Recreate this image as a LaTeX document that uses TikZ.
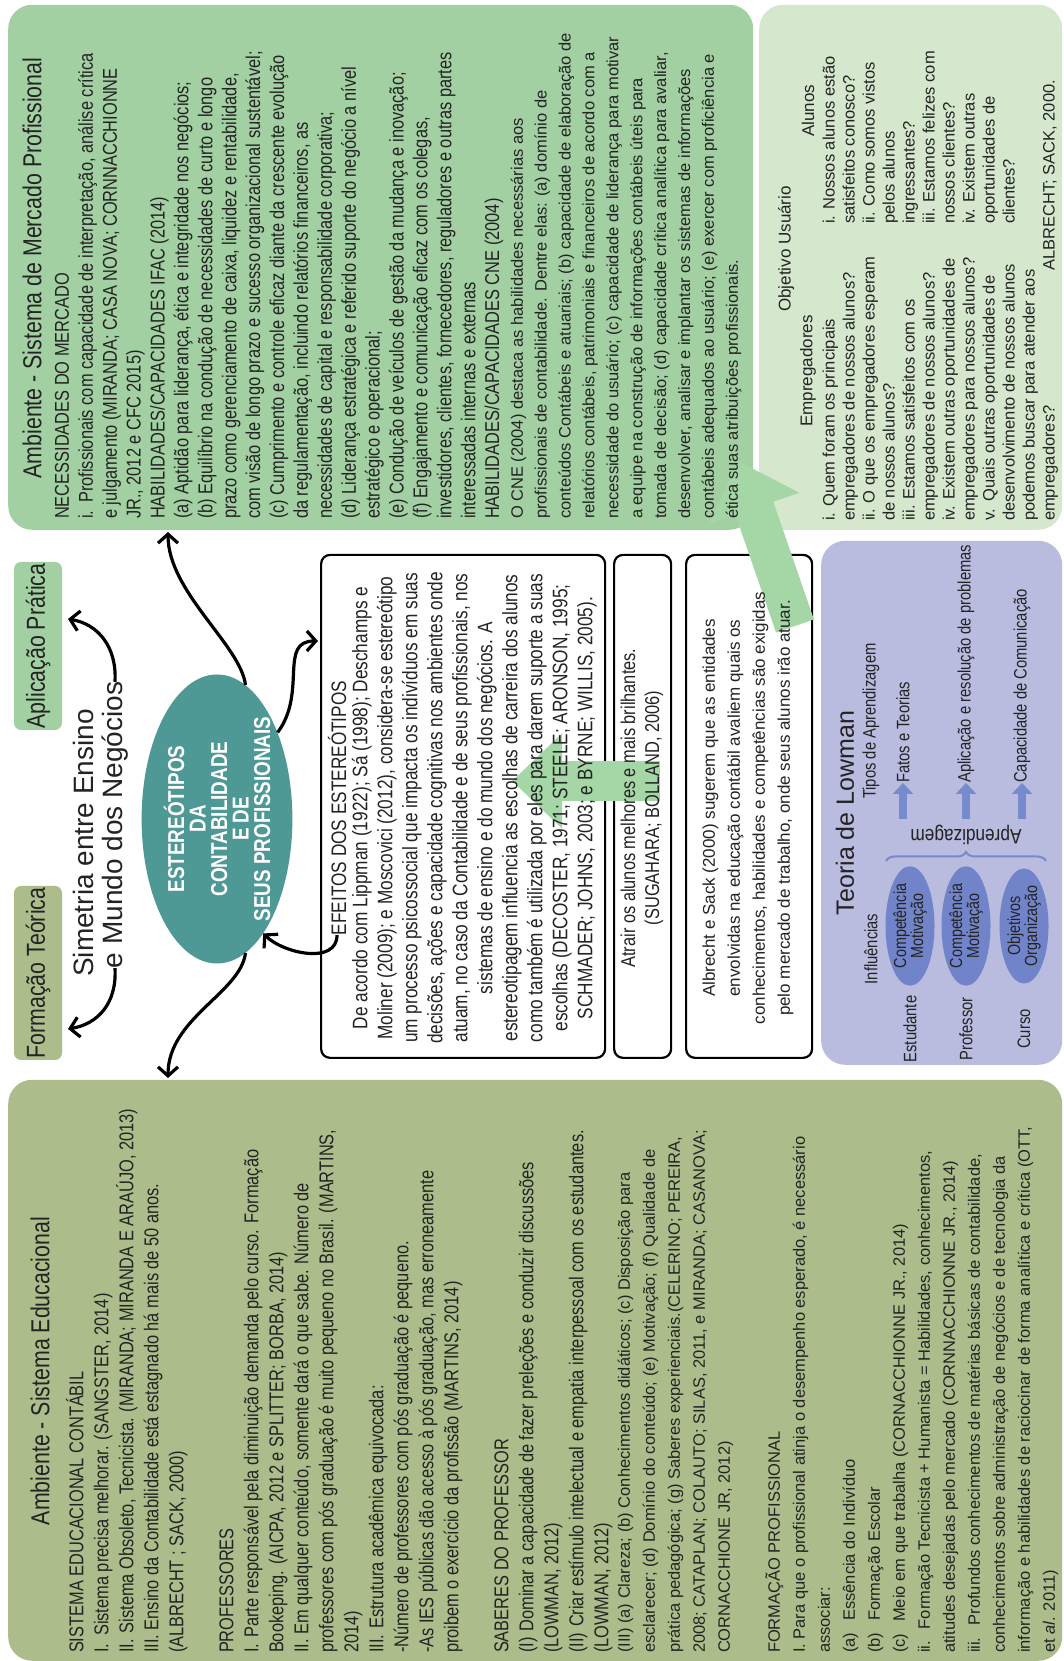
\documentclass[tikz,border=0pt]{standalone}
\usepackage{fontspec}
\setmainfont{Liberation Sans}
\newfontfamily\nar{Liberation Sans}[FakeStretch=0.82]
\usetikzlibrary{shapes.geometric,arrows.meta,decorations.pathreplacing}
\definecolor{merc}{RGB}{163,208,163}
\definecolor{objc}{RGB}{213,232,205}
\definecolor{educ}{RGB}{172,189,139}
\definecolor{ellc}{RGB}{78,152,150}
\definecolor{lowbg}{RGB}{185,187,223}
\definecolor{lowell}{RGB}{113,132,201}
\definecolor{lowarr}{RGB}{118,138,206}
\definecolor{garr}{RGB}{165,214,165}
\definecolor{txt}{RGB}{35,35,35}
\tikzset{
  panel/.style={draw=none, rounded corners=24pt, inner sep=0pt, anchor=north west},
  wbox/.style={draw=black, line width=2.2pt, fill=white, rounded corners=9pt, inner sep=0pt, anchor=north west},
  lbl/.style={rounded corners=7pt, inner sep=0pt, anchor=center, text=txt},
  nt/.style={inner sep=0pt, outer sep=0pt, text=txt, align=left, anchor=north west, font=\nar\fontsize{20}{25}\selectfont},
  rt/.style={inner sep=0pt, outer sep=0pt, text=txt, align=left, anchor=north west, font=\fontsize{16.5}{25}\selectfont},
  ct/.style={inner sep=0pt, outer sep=0pt, text=txt, align=center},
  blk/.style={line width=3.2pt, -{Straight Barb[length=9pt,width=20pt]}},
  garrow/.style={line width=40pt, draw=garr, -{Triangle[length=50pt,width=92pt]}},
  lowa/.style={line width=8pt, draw=lowarr, -{Triangle[length=11pt,width=20pt]}},
  lowe/.style={ellipse, fill=lowell, minimum width=114pt, minimum height=49pt, inner sep=0pt, align=center, text=txt, font=\nar\fontsize{17.5}{17}\selectfont},
  lowt/.style={inner sep=0pt, text=txt, font=\nar\fontsize{18}{20}\selectfont},
}
\begin{document}
\begin{tikzpicture}[x=1pt,y=-1pt]
\begin{scope}[rotate=90, transform shape]
\useasboundingbox (0,0) rectangle (1661,1064);
\fill[white] (0,0) rectangle (1661,1064);

% panels
\node[panel, fill=educ, minimum width=581pt, minimum height=1054pt] (edu) at (0,8) {};
\node[panel, fill=merc, minimum width=525pt, minimum height=745pt] (merc) at (1131,8) {};
\node[panel, fill=objc, minimum width=525pt, minimum height=303pt] (obj) at (1131,759) {};
\node[panel, fill=lowbg, minimum width=524pt, minimum height=241pt] (low) at (596,821) {};

% top labels
\node[lbl, fill=educ, minimum width=174pt, minimum height=48pt, font=\nar\fontsize{26}{30}\selectfont] (form) at (688,38) {Formação Teórica};
\node[lbl, fill=merc, minimum width=168pt, minimum height=48pt, font=\nar\fontsize{26}{30}\selectfont] (apl) at (1015,38) {Aplicação Prática};
\node[ct, font=\fontsize{28}{32}\selectfont] (sim1) at (818,83) {Simetria entre Ensino};
\node[ct, font=\fontsize{28}{32}\selectfont] (sim2) at (836,115) {e Mundo dos Negócios};

% central ellipse
\node[ellipse, fill=ellc, minimum width=262pt, minimum height=138pt, inner sep=0pt, align=center, text=white, font=\nar\bfseries\fontsize{23}{21.5}\selectfont] (ell) at (842,217) {ESTEREÓTIPOS\\DA\\CONTABILIDADE\\E DE\\SEUS PROFISSIONAIS};

% white boxes
\node[wbox, minimum width=503pt, minimum height=284pt] (ef) at (602,320) {};
\node[wbox, minimum width=503pt, minimum height=57pt] (atr) at (602,613) {};
\node[wbox, minimum width=503pt, minimum height=126pt] (alb) at (602,685) {};

% big green arrows
\coordinate (g1s) at (880,660);
\coordinate (g1e) at (880,512);
\draw[garrow] (g1s) -- (g1e);
\coordinate (g2s) at (1035,795);
\coordinate (g2e) at (1200,738);
\draw[garrow] (g2s) -- (g2e);

% black arrows
\coordinate (mercin) at (1129,168);
\coordinate (eduin) at (583,168);
\coordinate (efin) at (1020,318);
\coordinate (formin) at (632,68);
\coordinate (aplin) at (1042,68);
\draw[blk] (sim2.west) .. controls +(-35,2) and +(5,30) .. (formin);
\draw[blk] (sim2.east) .. controls +(35,2) and +(-5,30) .. (aplin);
\draw[blk] (ell.-12) .. controls +(40,-5) and +(-60,0) .. (mercin);
\draw[blk] (ell.-168) .. controls +(-40,-5) and +(60,0) .. (eduin);
\draw[blk] (ell.-35) .. controls +(40,30) and +(0,-40) .. (efin);

% Educacional text
\node[inner sep=0pt, text=txt, font=\nar\fontsize{26}{30}\selectfont] (edut) at (290,40) {Ambiente - Sistema Educacional};
\node[nt] (edub1) at (8,66) {SISTEMA EDUCACIONAL CONTÁBIL\\
I.\hspace{8pt}Sistema precisa  melhorar. (SANGSTER, 2014)\\
II.\hspace{6pt}Sistema Obsoleto, Tecnicista. (MIRANDA; MIRANDA E ARAÚJO, 2013)\\
III. Ensino da Contabilidade está estagnado há mais de 50 anos.\\
(ALBRECHT ; SACK, 2000)\\[25pt]
PROFESSORES\\
I.\hspace{6pt}Parte responsável pela diminuição demanda pelo curso. Formação\\
Bookeping. (AICPA, 2012 e SPLITTER; BORBA, 2014)\\
II. Em qualquer conteúdo, somente dará o que sabe. Número de\\
professores com pós graduação é muito pequeno no Brasil. (MARTINS,\\
2014)\\
III.\hspace{6pt}Estrutura acadêmica equivocada:\\
-Número de professores com pós graduação é pequeno.\\
-As IES públicas dão acesso à pós graduação, mas erroneamente\\
proibem o exercício da profissão (MARTINS, 2014)\\[25pt]
SABERES DO PROFESSOR\\
(I)\hspace{6pt}Dominar a capacidade de fazer preleções e conduzir discussões\\
(LOWMAN, 2012)\\
(II)\hspace{6pt}Criar estímulo intelectual e empatia interpessoal com os estudantes.\\
(LOWMAN, 2012)};
\node[rt] (edub2) at (8,617.6) {(III) (a) Clareza; (b) Conhecimentos didáticos; (c) Disposição para\\
esclarecer; (d) Domínio do conteúdo; (e) Motivação; (f) Qualidade de\\
prática pedagógica; (g) Saberes experienciais.(CELERINO; PEREIRA,\\
2008; CATAPLAN; COLAUTO; SILAS, 2011, e MIRANDA; CASANOVA;\\
CORNACCHIONE JR, 2012)\\[25pt]
FORMAÇÃO PROFISSIONAL\\
I. Para que o profissional atinja o desempenho esperado, é necessário\\
associar:\\
(a)\hspace{12pt}Essência do Indivíduo\\
(b)\hspace{12pt}Formação Escolar\\
(c)\hspace{12pt}Meio em que trabalha (CORNACCHIONNE JR., 2014)\\
ii.\hspace{12pt}Formação Tecnicista + Humanista = Habilidades, conhecimentos,\\
atitudes desejadas pelo mercado (CORNNACCHIONNE JR., 2014)\\
iii.\hspace{12pt}Profundos conhecimentos de matérias básicas de contabilidade,\\
conhecimentos sobre administração de negócios e de tecnologia da\\
informação e habilidades de raciocinar de forma analítica e crítica (OTT,\\
et \textit{al}. 2011)};

% Mercado text
\node[inner sep=0pt, text=txt, font=\nar\fontsize{26}{30}\selectfont] (merct) at (1393,32) {Ambiente - Sistema de Mercado Profissional};
\node[nt, font=\nar\fontsize{20}{23.9}\selectfont] (mercb1) at (1142,55) {NECESSIDADES DO MERCADO\\
i.\hspace{8pt}Profissionais com capacidade de interpretação, análise crítica\\
e julgamento (MIRANDA; CASA NOVA; CORNNACCHIONNE\\
JR., 2012 e CFC 2015)\\
HABILIDADES/CAPACIDADES IFAC (2014)\\
(a) Aptidão para liderança, ética e integridade nos negócios;\\
(b) Equilíbrio na condução de necessidades de curto e longo\\
prazo como gerenciamento de caixa, liquidez e rentabilidade,\\
com visão de longo prazo e sucesso organizacional sustentável;\\
(c) Cumprimento e controle eficaz diante da crescente evolução\\
da regulamentação, incluindo relatórios financeiros, as\\
necessidades de capital e responsabilidade corporativa;\\
(d) Liderança estratégica e referido suporte do negócio a nível\\
estratégico e operacional;\\
(e) Condução de veículos de gestão da mudança e inovação;\\
(f) Engajamento e comunicação eficaz com os colegas,\\
investidores, clientes, fornecedores, reguladores e outras partes\\
interessadas internas e externas\\
HABILIDADES/CAPACIDADES CNE (2004)};
\node[rt, font=\fontsize{16.5}{23.9}\selectfont] (mercb2) at (1142,510.6) {O CNE (2004) destaca as habilidades necessárias aos\\
profissionais de contabilidade. Dentre elas: (a) domínio de\\
conteúdos Contábeis e atuariais; (b) capacidade de elaboração de\\
relatórios contábeis, patrimoniais e financeiros de acordo com a\\
necessidade do usuário; (c) capacidade de liderança para motivar\\
a equipe na construção de informações contábeis úteis para\\
tomada de decisão; (d) capacidade crítica analítica para avaliar,\\
desenvolver, analisar e implantar os sistemas de informações\\
contábeis adequados ao usuário; (e) exercer com proficiência e\\
ética suas atribuições profissionais.};

% EFEITOS box text
\node[ct, font=\nar\fontsize{21}{25}\selectfont] (eft) at (853,337) {EFEITOS DOS ESTEREÓTIPOS};
\draw[blk] (eft.west) .. controls +(-30,0) and +(-20,20) .. (ell.-158);
\node[ct, anchor=north, font=\nar\fontsize{21}{25}\selectfont] (efb) at (853,352) {De acordo com Lippman (1922); Sá (1998); Deschamps e\\
Moliner (2009); e Moscovici (2012), considera-se estereótipo\\
um processo psicossocial que impacta os indivíduos em suas\\
decisões, ações e capacidade cognitivas nos ambientes onde\\
atuam, no caso da Contabilidade e de seus profissionais, nos\\
sistemas de ensino e do mundo dos negócios. A\\
estereotipagem influencia as escolhas de carreira dos alunos\\
como também é utilizada por eles para darem suporte a suas\\
escolhas (DECOSTER, 1971; STEELE; ARONSON, 1995;\\
SCHMADER; JOHNS, 2003; e BYRNE; WILLIS, 2005).};

\node[ct, font=\nar\fontsize{20}{24}\selectfont] (atrt) at (853,642) {Atrair os alunos melhores e mais brilhantes.\\(SUGAHARA; BOLLAND, 2006)};
\node[ct, font=\fontsize{17}{25}\selectfont] (albt) at (853,748) {Albrecht e Sack (2000) sugerem que as entidades\\
envolvidas na educação contábil avaliem quais os\\
conhecimentos, habilidades e competências são exigidas\\
pelo mercado de trabalho, onde seus alunos irão atuar.};

% Objetivo box
\node[ct, font=\fontsize{17}{20}\selectfont] (objt) at (1412,786) {Objetivo Usuário};
\node[ct, font=\fontsize{17}{20}\selectfont] (emp) at (1290,808) {Empregadores};
\node[ct, font=\fontsize{17}{20}\selectfont] (alu) at (1550,808) {Alunos};
\node[rt, font=\fontsize{16.5}{20}\selectfont] (empl) at (1140,822.6) {i.\hspace{6pt}Quem foram os principais\\
empregadores de nossos alunos?\\
ii.\hspace{6pt}O que os empregadores esperam\\
de nossos alunos?\\
iii.\hspace{6pt}Estamos satisfeitos com os\\
empregadores de nossos alunos?\\
iv.\hspace{6pt}Existem outras oportunidades de\\
empregadores para nossos alunos?\\
v.\hspace{8pt}Quais outras oportunidades de\\
desenvolvimento de nossos alunos\\
podemos buscar para atender aos\\
empregadores?};
\node[rt, font=\fontsize{16.5}{20}\selectfont] (alul) at (1437,822.6) {i.\hspace{6pt}Nossos alunos estão\\
satisfeitos conosco?\\
ii.\hspace{6pt}Como somos vistos\\
pelos alunos\\
ingressantes?\\
iii.\hspace{6pt}Estamos felizes com\\
nossos clientes?\\
iv.\hspace{6pt}Existem outras\\
oportunidades de\\
clientes?};
\node[inner sep=0pt, anchor=west, text=txt, font=\fontsize{16.5}{20}\selectfont] (ref) at (1390,1050) {ALBRECHT; SACK, 2000.};

% Lowman box
\node[ct, font=\fontsize{25}{27}\selectfont] (lowt) at (848,845) {Teoria de Lowman};
\node[lowt] (infl) at (712,871) {Influências};
\node[lowt, anchor=west] (tipos) at (862,871) {Tipos de Aprendizagem};
\node[lowt] (estd) at (632,910) {Estudante};
\node[lowt] (prof) at (632,966) {Professor};
\node[lowt] (curs) at (632,1024) {Curso};
\node[lowe] (e1) at (735,910) {Competência\\Motivação};
\node[lowe] (e2) at (735,966) {Competência\\Motivação};
\node[lowe] (e3) at (735,1024) {Objetivos\\Organização};
\draw[lowarr, line width=2pt, decorate, decoration={brace, amplitude=9pt}] (800,886) -- (800,1046);
\node[lowt, rotate=90, font=\nar\fontsize{21}{22}\selectfont] (apz) at (826,966) {Aprendizagem};
\node[lowt, anchor=west] (t1) at (878,903) {Fatos e Teorias};
\node[lowt, anchor=west] (t2) at (878,966) {Aplicação e resolução de problemas};
\node[lowt, anchor=west] (t3) at (878,1022) {Capacidade de Comunicação};
\coordinate (la1) at (842,903);
\coordinate (la2) at (842,966);
\coordinate (la3) at (842,1022);
\draw[lowa] (la1) -- (t1.west);
\draw[lowa] (la2) -- (t2.west);
\draw[lowa] (la3) -- (t3.west);
\end{scope}
\end{tikzpicture}
\end{document}
